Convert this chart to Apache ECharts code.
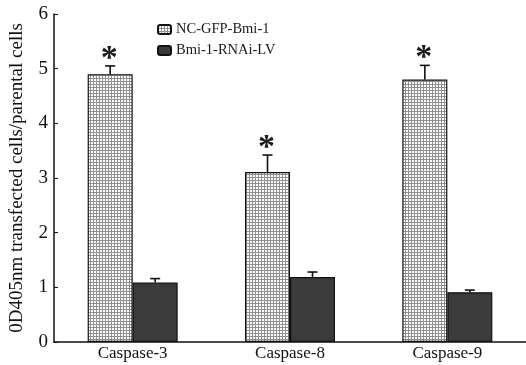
<!DOCTYPE html>
<html><head><meta charset="utf-8">
<script src="https://cdn.jsdelivr.net/npm/echarts@6/dist/echarts.min.js"></script>
<style>html,body{margin:0;padding:0;background:#fff}#c{width:526px;height:365px}</style>
</head><body><div id="c"></div>
<script>
var categories = ['Caspase-3', 'Caspase-8', 'Caspase-9'];
var ncValues = [4.90, 3.11, 4.80];
var ncErrors = [0.15, 0.31, 0.26];
var rnaiValues = [1.09, 1.19, 0.91];
var rnaiErrors = [0.07, 0.09, 0.04];
var significant = [true, true, true];
var yTicks = [0, 1, 2, 3, 4, 5, 6];

var pc = document.createElement('canvas');
pc.width = 3; pc.height = 3;
var g = pc.getContext('2d');
g.fillStyle = '#ffffff'; g.fillRect(0, 0, 3, 3);
g.fillStyle = '#8f8f8f';
g.fillRect(0, 0, 3, 1);
g.fillRect(0, 0, 1, 3);

var BW = 45;
var font = '"Liberation Serif", "DejaVu Serif", serif';

function errSeries(vals, errs, off, star) {
  return {
    type: 'custom',
    silent: true,
    z: 5,
    data: vals.map(function (v, i) { return [i, v, errs[i], star ? (significant[i] ? 1 : 0) : 0]; }),
    renderItem: function (params, api) {
      var i = api.value(0), v = api.value(1), e = api.value(2), s = api.value(3);
      var p0 = api.coord([i, v]);
      var p1 = api.coord([i, v + e]);
      var x = p0[0] + off;
      var ch = [
        { type: 'line', shape: { x1: x, y1: p0[1], x2: x, y2: p1[1] }, style: { stroke: '#111', lineWidth: 1.6 } },
        { type: 'line', shape: { x1: x - 5, y1: p1[1], x2: x + 5, y2: p1[1] }, style: { stroke: '#111', lineWidth: 1.6 } }
      ];
      if (s) {
        ch.push({ type: 'text', style: { text: '*', x: x - 1, y: p1[1] + 10, textAlign: 'center', textVerticalAlign: 'bottom', font: 'bold 34px ' + font, fill: '#1a1a1a' } });
      }
      return { type: 'group', children: ch };
    }
  };
}

var chart = echarts.init(document.getElementById('c'), null, { renderer: 'canvas' });
chart.setOption({
  animation: false,
  backgroundColor: '#fff',
  grid: { left: 53, right: 0, top: 14, bottom: 23 },
  legend: {
    orient: 'vertical', left: 157, top: 22, padding: 0, itemWidth: 13, itemHeight: 9, itemGap: 6,
    textStyle: { fontFamily: font, fontSize: 14.5, color: '#1a1a1a' },
    data: ['NC-GFP-Bmi-1', 'Bmi-1-RNAi-LV']
  },
  xAxis: {
    type: 'category', data: categories,
    axisLine: { lineStyle: { color: '#111', width: 1.5 } },
    axisTick: { inside: true, length: 3, lineStyle: { color: '#111' } },
    axisLabel: { fontFamily: font, fontSize: 17, color: '#111', margin: 3 }
  },
  yAxis: {
    type: 'value', min: 0, max: 6, interval: 1,
    name: '0D405nm transfected cells/parental cells',
    nameLocation: 'middle', nameGap: 27,
    nameTextStyle: { fontFamily: font, fontSize: 19, color: '#111' },
    axisLine: { show: true, lineStyle: { color: '#111', width: 1.5 } },
    axisTick: { show: true, inside: true, length: 4, lineStyle: { color: '#111' } },
    splitLine: { show: false },
    axisLabel: { fontFamily: font, fontSize: 19, color: '#111', margin: 6,
      formatter: function (v) { return yTicks.indexOf(v) >= 0 ? String(v) : ''; } }
  },
  series: [
    { name: 'NC-GFP-Bmi-1', type: 'bar', data: ncValues, barWidth: BW, barGap: '0%',
      itemStyle: { color: { image: pc, repeat: 'repeat' }, borderColor: '#111', borderWidth: 1.2 } },
    { name: 'Bmi-1-RNAi-LV', type: 'bar', data: rnaiValues, barWidth: BW, barGap: '0%',
      itemStyle: { color: '#3b3b3b', borderColor: '#111', borderWidth: 1.2 } },
    errSeries(ncValues, ncErrors, -BW / 2, true),
    errSeries(rnaiValues, rnaiErrors, BW / 2, false)
  ]
});
</script></body></html>
